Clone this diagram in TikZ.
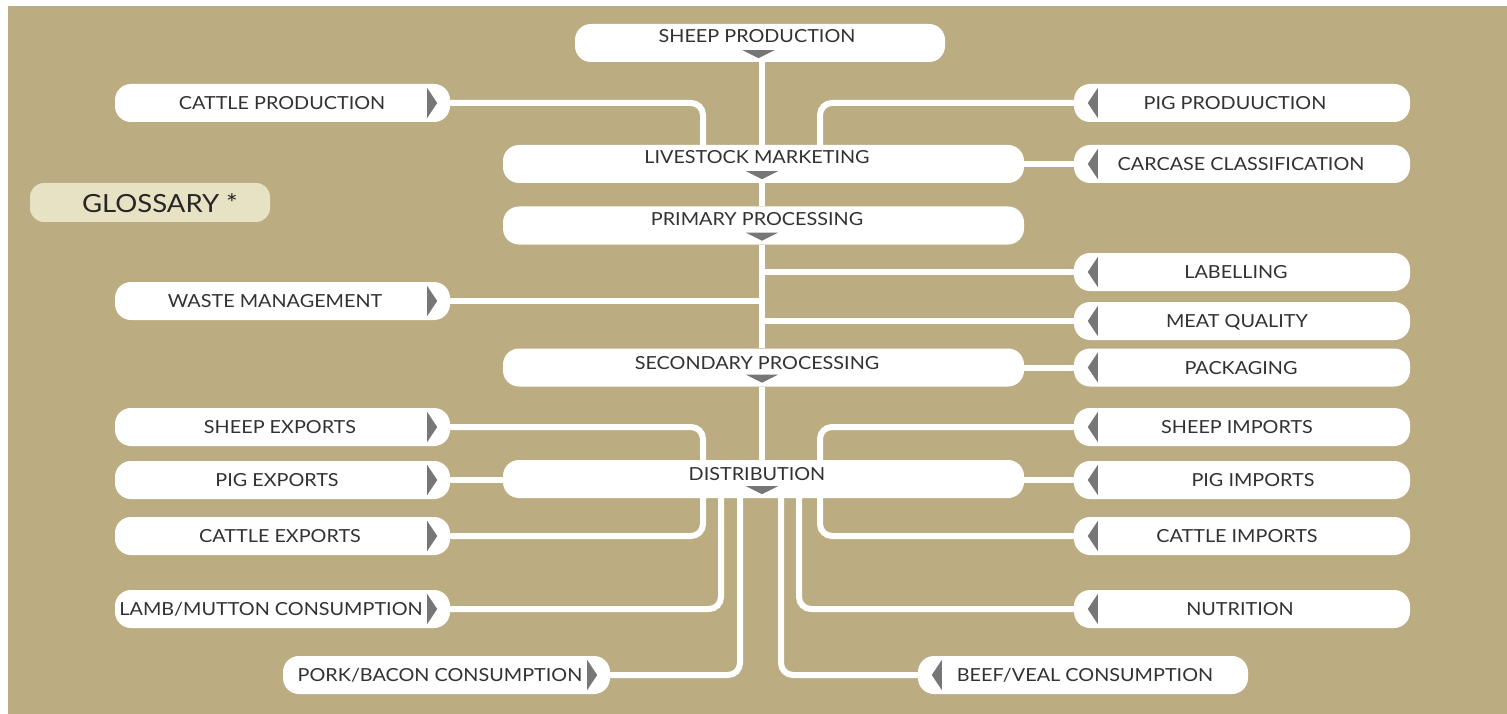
\documentclass[tikz,border=0pt]{standalone}
\usepackage{fontspec}
\setmainfont{Lato}[FakeStretch=1.1]
\definecolor{tanbg}{RGB}{187,173,129}
\definecolor{txt}{RGB}{50,50,50}
\definecolor{trig}{RGB}{118,118,118}
\definecolor{gloss}{RGB}{232,226,196}
\pgfdeclarelayer{bglayer}
\pgfdeclarelayer{wirelayer}
\pgfsetlayers{bglayer,wirelayer,main}
\begin{document}
\begin{tikzpicture}[x=1pt,y=-1pt,
  box/.style={fill=white, draw=none, rounded corners=16pt, minimum height=38pt, inner sep=0pt},
  lbl/.style={font=\fontsize{18}{20}\selectfont, text=txt, text height=13pt, text depth=0pt, inner sep=0pt},
  wire/.style={draw=white, line width=6pt, rounded corners=12pt},
  trifill/.style={fill=trig, draw=none}]
\useasboundingbox (0,0) rectangle (1507,714);
\begin{pgfonlayer}{bglayer}
\fill[white] (0,0) rectangle (1507,714);
\fill[tanbg] (8,6) rectangle (1507,714);
\end{pgfonlayer}
% central column
\node[box, minimum width=370pt] (sheep) at (760,43) {};
\node[lbl] (sheepT) at (757,36) {SHEEP PRODUCTION};
\node[box, minimum width=521pt] (livestock) at (763.5,164) {};
\node[lbl] (livestockT) at (757,157) {LIVESTOCK MARKETING};
\node[box, minimum width=521pt] (primary) at (763.5,225.5) {};
\node[lbl] (primaryT) at (757,219) {PRIMARY PROCESSING};
\node[box, minimum width=521pt] (secondary) at (763.5,367.5) {};
\node[lbl] (secondaryT) at (757,363) {SECONDARY PROCESSING};
\node[box, minimum width=521pt] (distribution) at (763.5,479) {};
\node[lbl] (distributionT) at (757,474) {DISTRIBUTION};
\foreach \n in {sheep,livestock,primary,secondary,distribution}{
  \fill[trifill] ([xshift=-17.5pt,yshift=12pt]\n.south) -- ([xshift=14.5pt,yshift=12pt]\n.south) -- ([xshift=-1.5pt,yshift=4pt]\n.south) -- cycle;
}
% left boxes
\node[box, minimum width=335pt] (cattle) at (282.5,103) {};
\node[lbl] (cattleT) at (282,103) {CATTLE PRODUCTION};
\node[box, minimum width=335pt] (waste) at (282.5,301) {};
\node[lbl] (wasteT) at (275,301) {WASTE MANAGEMENT};
\node[box, minimum width=335pt] (sheepexp) at (282.5,427) {};
\node[lbl] (sheepexpT) at (280,427) {SHEEP EXPORTS};
\node[box, minimum width=335pt] (pigexp) at (282.5,480) {};
\node[lbl] (pigexpT) at (277,480) {PIG EXPORTS};
\node[box, minimum width=335pt] (cattleexp) at (282.5,536) {};
\node[lbl] (cattleexpT) at (280,536) {CATTLE EXPORTS};
\node[box, minimum width=335pt] (lamb) at (282.5,609) {};
\node[lbl] (lambT) at (271,609) {LAMB/MUTTON CONSUMPTION};
\node[box, minimum width=327pt] (pork) at (446.5,675) {};
\node[lbl] (porkT) at (440,675) {PORK/BACON CONSUMPTION};
\foreach \n in {cattle,waste,sheepexp,pigexp,cattleexp,lamb,pork}{
  \fill[trifill] ([xshift=-23pt,yshift=-15pt]\n.east) -- ([xshift=-23pt,yshift=15pt]\n.east) -- ([xshift=-13pt]\n.east) -- cycle;
}
% right boxes
\node[box, minimum width=336pt] (pig) at (1242,103) {};
\node[lbl] (pigT) at (1235,103) {PIG PRODUUCTION};
\node[box, minimum width=336pt] (carcase) at (1242,164) {};
\node[lbl] (carcaseT) at (1241,164) {CARCASE CLASSIFICATION};
\node[box, minimum width=336pt] (labelling) at (1242,272) {};
\node[lbl] (labellingT) at (1236,272) {LABELLING};
\node[box, minimum width=336pt] (meat) at (1242,321) {};
\node[lbl] (meatT) at (1237,321) {MEAT QUALITY};
\node[box, minimum width=336pt] (packaging) at (1242,367.5) {};
\node[lbl] (packagingT) at (1241,367.5) {PACKAGING};
\node[box, minimum width=336pt] (sheepimp) at (1242,427) {};
\node[lbl] (sheepimpT) at (1237,427) {SHEEP IMPORTS};
\node[box, minimum width=336pt] (pigimp) at (1242,480) {};
\node[lbl] (pigimpT) at (1253,480) {PIG IMPORTS};
\node[box, minimum width=336pt] (cattleimp) at (1242,536) {};
\node[lbl] (cattleimpT) at (1237,536) {CATTLE IMPORTS};
\node[box, minimum width=336pt] (nutrition) at (1242,609) {};
\node[lbl] (nutritionT) at (1240,609) {NUTRITION};
\node[box, minimum width=330pt] (beef) at (1083,675) {};
\node[lbl] (beefT) at (1085,675) {BEEF/VEAL CONSUMPTION};
\foreach \n in {pig,carcase,labelling,meat,packaging,sheepimp,pigimp,cattleimp,nutrition,beef}{
  \fill[trifill] ([xshift=24pt,yshift=-15pt]\n.west) -- ([xshift=24pt,yshift=15pt]\n.west) -- ([xshift=14pt]\n.west) -- cycle;
}
% glossary
\node[fill=gloss, draw=none, rounded corners=14pt, minimum width=240pt, minimum height=39pt, inner sep=0pt] (glossary) at (150,202.5) {};
\node[lbl, font=\fontsize{25}{27}\selectfont, text=black!85, text height=18pt] (glossaryT) at (160,203) {GLOSSARY *};
% connectors
\coordinate (xc) at (762,0);
\coordinate (xl) at (703,0);
\coordinate (xr) at (820,0);
\coordinate (xlm) at (721,0);
\coordinate (xpb) at (740,0);
\coordinate (xbv) at (781,0);
\coordinate (xnu) at (799,0);
\begin{pgfonlayer}{wirelayer}
\draw[wire] (sheep.south -| xc) -- (livestock.north -| xc);
\draw[wire] (cattle.east) -| (livestock.north -| xl);
\draw[wire] (pig.west) -| (livestock.north -| xr);
\draw[wire] (livestock.east) -- (carcase.west);
\draw[wire] (livestock.south -| xc) -- (primary.north -| xc);
\draw[wire] (primary.south -| xc) -- (secondary.north -| xc);
\draw[wire] (labelling.west) -- (labelling.west -| xc);
\draw[wire] (waste.east) -- (waste.east -| xc);
\draw[wire] (meat.west) -- (meat.west -| xc);
\draw[wire] (secondary.east) -- (packaging.west);
\draw[wire] (secondary.south -| xc) -- (distribution.north -| xc);
\draw[wire] (sheepexp.east) -| (distribution.north -| xl);
\draw[wire] (sheepimp.west) -| (distribution.north -| xr);
\draw[wire] (pigexp.east) -- (pigexp.east -| distribution.west);
\draw[wire] (pigimp.west) -- (pigimp.west -| distribution.east);
\draw[wire] (cattleexp.east) -| (distribution.south -| xl);
\draw[wire] (cattleimp.west) -| (distribution.south -| xr);
\draw[wire] (lamb.east) -| (distribution.south -| xlm);
\draw[wire] (nutrition.west) -| (distribution.south -| xnu);
\draw[wire] (pork.east) -| (distribution.south -| xpb);
\draw[wire] (beef.west) -| (distribution.south -| xbv);
\end{pgfonlayer}
\end{tikzpicture}
\end{document}
